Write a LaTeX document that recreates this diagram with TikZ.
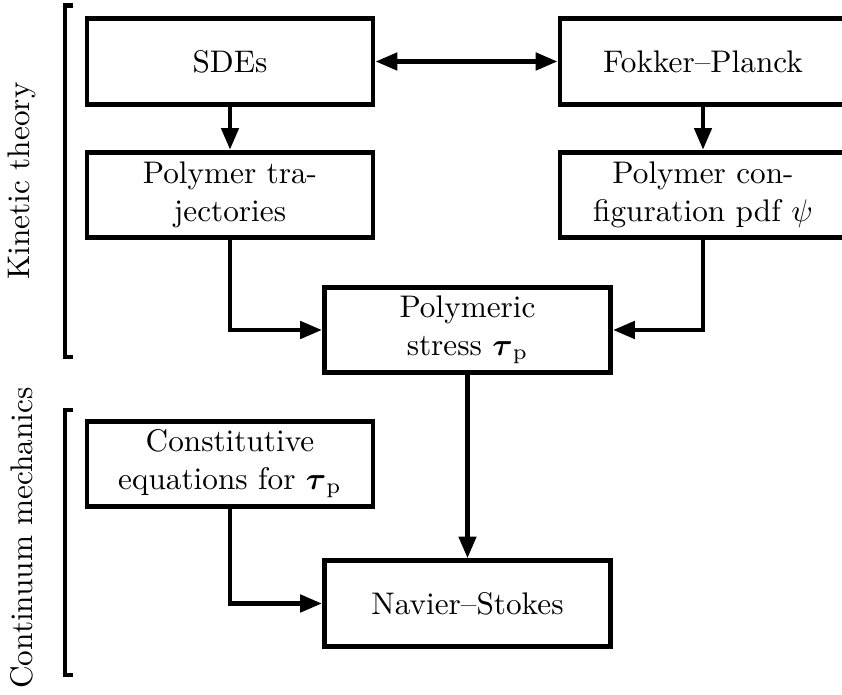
\documentclass[tikz,border=0pt]{standalone}
\usepackage{amsmath}
\usetikzlibrary{arrows.meta}
\begin{document}
\begin{tikzpicture}[x=0.32pt,y=-0.32pt,
  box/.style={draw, line width=1.55pt, minimum width=91.5pt, minimum height=27.3pt,
    inner sep=2pt, align=center, font=\normalsize},
  link/.style={line width=1.55pt, -{Triangle[length=7pt,width=5.4pt]}},
  twoway/.style={line width=1.55pt, {Triangle[length=7pt,width=5.4pt]}-{Triangle[length=7pt,width=5.4pt]}},
  brace/.style={line width=1.55pt},
  side/.style={rotate=90, font=\normalsize}]
\clip (0,0) rectangle (842,695);

% model boxes
\node[box] (sde)    at (230,61.5)   {SDEs};
\node[box] (fp)     at (703,61.5)   {Fokker--Planck};
\node[box] (traj)   at (230,195)    {Polymer tra-\\jectories};
\node[box] (conf)   at (703,195)    {Polymer con-\\figuration pdf $\psi$};
\node[box] (stress) at (467.5,330)  {Polymeric\\stress $\boldsymbol{\tau}_{\mathrm{p}}$};
\node[box] (const)  at (230,464)    {Constitutive\\equations for $\boldsymbol{\tau}_{\mathrm{p}}$};
\node[box] (ns)     at (467.5,603.5) {Navier--Stokes};

% connectors
\draw[twoway] (sde) -- (fp);
\draw[link] (sde) -- (traj);
\draw[link] (fp) -- (conf);
\draw[link] (traj.south) |- (stress.west);
\draw[link] (conf.south) |- (stress.east);
\draw[link] (stress) -- (ns);
\draw[link] (const.south) |- (ns.west);

% side brackets with their labels
\draw[brace] (73,5.5) -- (65,5.5) -- (65,357) -- (73,357);
\draw[brace] (73,410) -- (65,410) -- (65,675) -- (73,675);
\node[side] (kin) at (22,181) {Kinetic theory};
\node[side] (cont) at (22,538) {Continuum mechanics};
\end{tikzpicture}
\end{document}
